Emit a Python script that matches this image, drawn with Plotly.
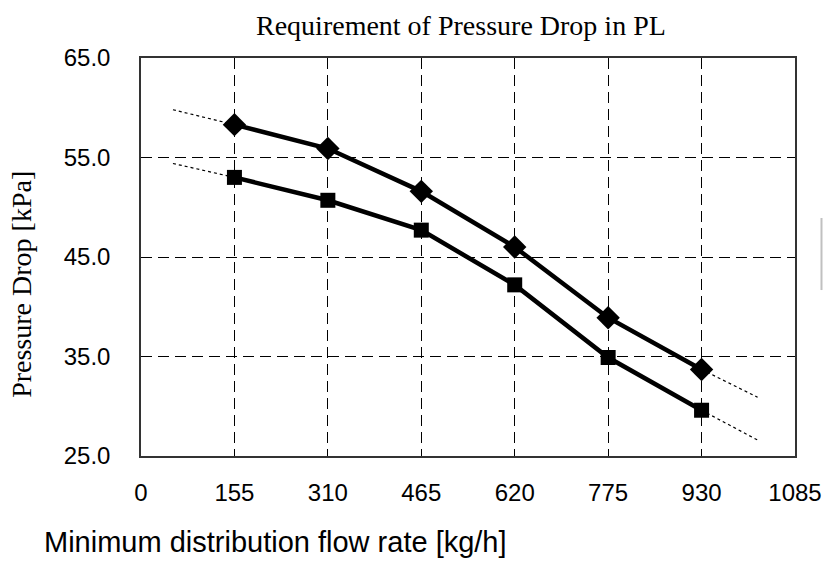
import plotly.graph_objects as go

# Flow rates [kg/h] and measured pressure drops [kPa]
flow_rate = [155, 310, 465, 620, 775, 930]
drop_upper = [58.3, 55.9, 51.6, 46.0, 38.9, 33.7]
drop_lower = [53.0, 50.7, 47.7, 42.2, 34.9, 29.6]

# Trend extensions beyond the measured range
trend_x_left = [53, 155]
trend_upper_left = [59.8, 58.3]
trend_lower_left = [54.4, 53.0]
trend_x_right = [930, 1023]
trend_upper_right = [33.7, 30.9]
trend_lower_right = [29.6, 26.6]

x_ticks = [0, 155, 310, 465, 620, 775, 930, 1085]
y_ticks = [25, 35, 45, 55, 65]

fig = go.Figure()

dotted = dict(color="black", width=1.2, dash="3px,3px")
for xs, ys in [(trend_x_left, trend_upper_left), (trend_x_left, trend_lower_left),
               (trend_x_right, trend_upper_right), (trend_x_right, trend_lower_right)]:
    fig.add_trace(go.Scatter(x=xs, y=ys, mode="lines", line=dotted,
                             showlegend=False, hoverinfo="skip"))

fig.add_trace(go.Scatter(
    x=flow_rate, y=drop_upper, mode="lines+markers",
    line=dict(color="black", width=4.5),
    marker=dict(symbol="diamond", size=18, color="black"),
    showlegend=False))
fig.add_trace(go.Scatter(
    x=flow_rate, y=drop_lower, mode="lines+markers",
    line=dict(color="black", width=4.5),
    marker=dict(symbol="square", size=15, color="black"),
    showlegend=False))

axis_common = dict(
    showgrid=True, gridcolor="black", gridwidth=1.2, griddash="11px,6px",
    zeroline=False, showline=True, linecolor="#333333", linewidth=1.5,
    mirror=True, ticks="", automargin=False,
    tickfont=dict(family="Liberation Sans, Arial, sans-serif", size=24, color="black"),
)

fig.update_xaxes(range=[0, 1085], tickvals=x_ticks,
                 ticktext=[str(v) for v in x_ticks],
                 ticklabelstandoff=14, **axis_common)
fig.update_yaxes(range=[25, 65], tickvals=y_ticks,
                 ticktext=[f"{v:.1f}" for v in y_ticks],
                 ticklabelstandoff=24, **axis_common)

fig.add_annotation(
    text="Requirement of Pressure Drop in PL", xref="paper", yref="paper",
    x=0.490, y=1.0, yshift=33, xanchor="center", yanchor="middle", showarrow=False,
    font=dict(family="Liberation Serif, Times New Roman, serif", size=28, color="black"))
fig.add_annotation(
    text="Pressure Drop [kPa]", xref="paper", yref="paper",
    x=0, xshift=-119, y=0.43, textangle=-90, xanchor="center", yanchor="middle",
    showarrow=False,
    font=dict(family="Liberation Serif, Times New Roman, serif", size=28, color="black"))
fig.add_annotation(
    text="Minimum distribution flow rate [kg/h]", xref="paper", yref="paper",
    x=0, xshift=-99, y=0, yshift=-86, xanchor="left", yanchor="middle",
    showarrow=False,
    font=dict(family="Liberation Sans, Arial, sans-serif", size=29, color="black"))

# Thin grey edge at the right side of the canvas
fig.add_shape(type="line", xref="paper", yref="paper",
              x0=1.0405, x1=1.0405, y0=0.417, y1=0.598,
              line=dict(color="#c0c0c0", width=2))

fig.update_layout(
    width=823, height=561,
    margin=dict(l=141, r=28, t=58, b=105),
    paper_bgcolor="white", plot_bgcolor="white",
    showlegend=False,
)

fig.write_html("out.html")
